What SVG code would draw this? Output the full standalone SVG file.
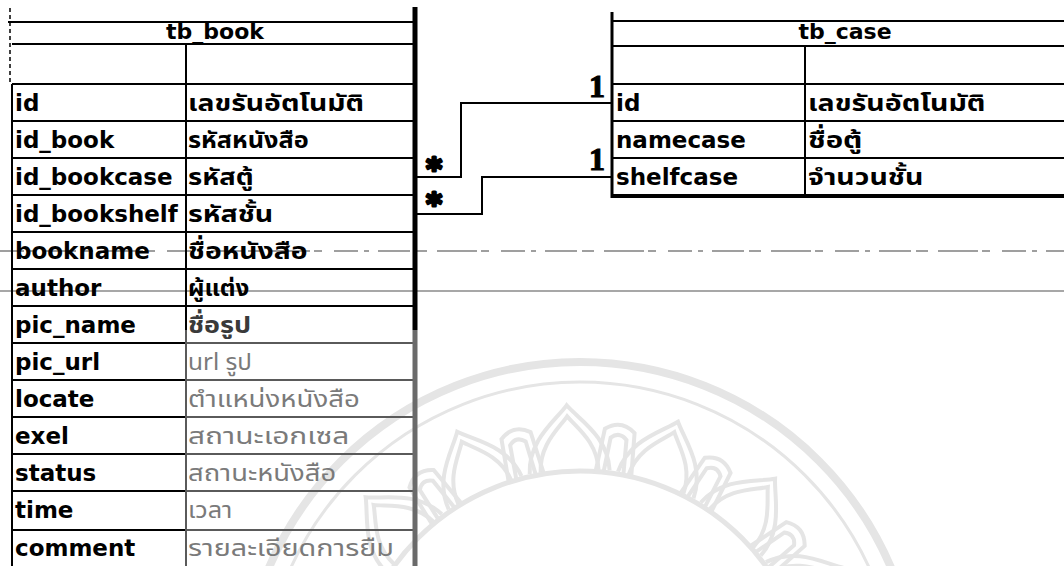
<svg xmlns="http://www.w3.org/2000/svg" xmlns:xlink="http://www.w3.org/1999/xlink" width="1064" height="566" viewBox="0 0 1064 566">
<style>
.ln{stroke:#000;stroke-width:2;fill:none}
.lg{stroke:#5a5a5a;stroke-width:2;fill:none}
.f{font-family:"DejaVu Sans","Liberation Sans",sans-serif;font-weight:bold;font-size:23px;fill:#000}
.th{font-family:"Noto Sans Thai","Liberation Sans","DejaVu Sans",sans-serif;font-weight:bold;font-size:23px;fill:#000}
.gr{fill:#7a7a7a;font-weight:normal}
.ttl{font-family:"DejaVu Sans","Liberation Sans",sans-serif;font-weight:bold;font-size:22px;fill:#000;text-anchor:middle}
.wm{stroke:#e5e5e5;fill:none}
.conn{stroke:#000;stroke-width:2;fill:none}
.star{font-family:"DejaVu Sans",sans-serif;font-weight:bold;font-size:30px;fill:#000;stroke:#000;stroke-width:3;stroke-linejoin:round;text-anchor:middle}
.one{font-family:"Liberation Serif",serif;font-weight:bold;font-size:32px;fill:#000;stroke:#000;stroke-width:1.2;text-anchor:middle}
</style>
<defs>
<g id="bigPetal" class="wm" stroke-width="4">
<path d="M-40,-228 C-40,-262 -12,-280 0,-295 C12,-280 40,-262 40,-228"/>
<path d="M-29,-229 C-29,-257 -9,-272 0,-284 C9,-272 29,-257 29,-229"/>
</g>
<g id="smallPetal" class="wm" stroke-width="4">
<path d="M-18,-229 L-15,-272 Q0,-284 15,-272 L18,-229"/>
<path d="M-10,-229 L-8,-264 Q0,-272 8,-264 L10,-229"/>
</g>
</defs>
<rect x="0" y="0" width="1064" height="566" fill="#fff"/>
<g id="watermark">
<circle class="wm" cx="580" cy="700" r="338" stroke-width="8"/>
<circle class="wm" cx="580" cy="700" r="318" stroke-width="3"/>
<circle class="wm" cx="580" cy="700" r="229" stroke-width="5"/>
<use xlink:href="#bigPetal" transform="translate(580,700) rotate(-46.6)"/>
<use xlink:href="#bigPetal" transform="translate(580,700) rotate(-24.6)"/>
<use xlink:href="#bigPetal" transform="translate(580,700) rotate(-2.6)"/>
<use xlink:href="#bigPetal" transform="translate(580,700) rotate(19.4)"/>
<use xlink:href="#bigPetal" transform="translate(580,700) rotate(41.4)"/>
<use xlink:href="#bigPetal" transform="translate(580,700) rotate(63.4)"/>
<use xlink:href="#smallPetal" transform="translate(580,700) rotate(-35.6)"/>
<use xlink:href="#smallPetal" transform="translate(580,700) rotate(-13.6)"/>
<use xlink:href="#smallPetal" transform="translate(580,700) rotate(8.4)"/>
<use xlink:href="#smallPetal" transform="translate(580,700) rotate(30.4)"/>
<use xlink:href="#smallPetal" transform="translate(580,700) rotate(52.4)"/>
</g>
<g id="scan-lines">
<path d="M0,251 H1064" stroke="#808080" stroke-width="1.5" stroke-dasharray="24 6 5 9 32 5 12 10 40 4 8 12"/>
<path d="M0,291 H1064" stroke="#8a8a8a" stroke-width="1.5"/>
</g>
<g id="tb_book">
<path class="ln" d="M8,22 H415 M12,44 H415 M12,84 H415"/>
<path d="M10,8 V84" stroke="#000" stroke-width="1.5" stroke-dasharray="4 3"/>
<path class="ln" d="M12,121 H415 M12,158 H415 M12,195 H415 M12,232 H415 M12,269 H415 M12,306 H415"/>
<path class="ln" d="M12,343 H186 M12,380 H186 M12,417 H186 M12,454 H186 M12,491 H186 M12,530 H186"/>
<path class="lg" d="M186,343 H413 M186,380 H413 M186,417 H413 M186,454 H413 M186,491 H413 M186,530 H413"/>
<path class="ln" d="M12,84 V566 M186,44 V330"/>
<path class="lg" d="M186,330 V566"/>
<path d="M415,7 V330" stroke="#000" stroke-width="5"/>
<path d="M415,330 V566" stroke="#6a6a6a" stroke-width="5"/>
<text class="ttl" x="215" y="39">tb_book</text>
<text class="f" x="15" y="111">id</text>
<text class="th" transform="translate(188,111) scale(1.23,1)">เลขรันอัตโนมัติ</text>
<text class="f" x="15" y="148">id_book</text>
<text class="th" transform="translate(188,148) scale(1.1,1)">รหัสหนังสือ</text>
<text class="f" x="15" y="185">id_bookcase</text>
<text class="th" transform="translate(188,185) scale(1.19,1)">รหัสตู้</text>
<text class="f" x="15" y="222">id_bookshelf</text>
<text class="th" transform="translate(188,222) scale(1.24,1)">รหัสชั้น</text>
<text class="f" x="15" y="259">bookname</text>
<text class="th" transform="translate(188,259) scale(1.23,1)">ชื่อหนังสือ</text>
<text class="f" x="15" y="296">author</text>
<text class="th" transform="translate(188,296) scale(1.05,1)">ผู้แต่ง</text>
<text class="f" x="15" y="333">pic_name</text>
<text class="th" transform="translate(188,333) scale(1.17,1)" style="fill:#3a3a3a">ชื่อรูป</text>
<text class="f" x="15" y="370">pic_url</text>
<text class="th gr" transform="translate(188,370) scale(1.05,1)">url รูป</text>
<text class="f" x="15" y="407">locate</text>
<text class="th gr" transform="translate(188,407) scale(1.2,1)">ตำแหน่งหนังสือ</text>
<text class="f" x="15" y="444">exel</text>
<text class="th gr" transform="translate(188,444) scale(1.3,1)">สถานะเอกเซล</text>
<text class="f" x="15" y="481">status</text>
<text class="th gr" transform="translate(188,481) scale(1.19,1)">สถานะหนังสือ</text>
<text class="f" x="15" y="518">time</text>
<text class="th gr" transform="translate(188,518) scale(1.1,1)">เวลา</text>
<text class="f" x="15" y="556">comment</text>
<text class="th gr" transform="translate(188,556) scale(1.25,1)">รายละเอียดการยืม</text>
</g>
<g id="tb_case">
<path class="ln" d="M612,21 H1064 M612,46 H1064 M612,84 H1064 M612,121 H1064 M612,158 H1064 M805,46 V196"/>
<path d="M612,196 H1064" stroke="#000" stroke-width="4"/>
<path d="M612,12 V198" stroke="#000" stroke-width="3"/>
<text class="ttl" x="845" y="39">tb_case</text>
<text class="f" x="616" y="111">id</text>
<text class="th" transform="translate(808,111) scale(1.24,1)">เลขรันอัตโนมัติ</text>
<text class="f" x="616" y="148">namecase</text>
<text class="th" transform="translate(808,148) scale(1.28,1)">ชื่อตู้</text>
<text class="f" x="616" y="185">shelfcase</text>
<text class="th" transform="translate(808,185) scale(1.24,1)">จำนวนชั้น</text>
</g>
<g id="connectors">
<path class="conn" d="M417,177 H461 V103 H611"/>
<path class="conn" d="M417,214 H482 V177 H611"/>
<text class="star" x="434" y="179">*</text>
<text class="star" x="434" y="214">*</text>
<text class="one" x="597" y="97">1</text>
<text class="one" x="597" y="170">1</text>
</g>
</svg>
